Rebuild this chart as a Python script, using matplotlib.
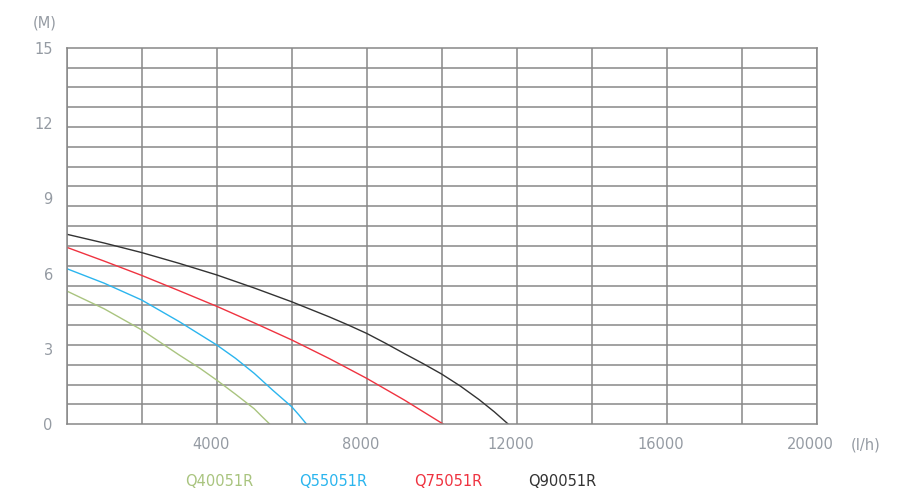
import matplotlib
matplotlib.use("Agg")
import matplotlib.pyplot as plt
from matplotlib.ticker import MultipleLocator
from matplotlib.transforms import ScaledTranslation

plt.rcParams['font.family'] = ['DejaVu Sans']

# Flow (l/h) and head (M)
q40_flow = [0, 1000, 2000, 3000, 3555, 4000, 4500, 5000, 5200, 5420]
q40_head = [5.31, 4.6, 3.76, 2.76, 2.23, 1.76, 1.2, 0.62, 0.32, 0.0]

q55_flow = [0, 1000, 2000, 3000, 4000, 4500, 5000, 5500, 6000, 6200, 6400]
q55_head = [6.2, 5.62, 4.95, 4.09, 3.16, 2.63, 2.03, 1.35, 0.70, 0.36, 0.0]

q75_flow = [0, 1000, 2000, 3000, 4000, 5000, 6000, 7000, 8000, 9000, 10050]
q75_head = [7.05, 6.5, 5.93, 5.32, 4.7, 4.04, 3.36, 2.62, 1.83, 0.97, 0.0]

q90_flow = [0, 1000, 2000, 3000, 4000, 5000, 6000, 7000, 7500, 8000, 8500, 9000, 9500, 10000, 10500, 11000, 11400, 11780]
q90_head = [7.57, 7.22, 6.84, 6.41, 5.95, 5.43, 4.88, 4.28, 3.96, 3.62, 3.23, 2.82, 2.42, 2.0, 1.52, 0.98, 0.5, 0.0]

series_names = ["Q40051R", "Q55051R", "Q75051R", "Q90051R"]
series_colors = ["#a9c47f", "#2bb5ee", "#ef3340", "#333333"]

x_ticks = [4000, 8000, 12000, 16000, 20000]
y_ticks = [0, 3, 6, 9, 12, 15]

label_color = '#959ba3'

fig = plt.figure(figsize=(9, 5), dpi=100)
ax = fig.add_axes([66.7/900, 1-424.3/500, 750/900, 376.6/500])

ax.set_xlim(0, 20000)
ax.set_ylim(0, 15)

ax.xaxis.set_minor_locator(MultipleLocator(2000))
ax.yaxis.set_minor_locator(MultipleLocator(15/19))
ax.set_xticks(x_ticks)
ax.set_yticks(y_ticks)
ax.set_xticklabels([str(v) for v in x_ticks])
ax.set_yticklabels([str(v) for v in y_ticks])
ax.tick_params(which='both', length=0)
ax.tick_params(axis='x', pad=9, labelsize=10.5, labelcolor=label_color)
ax.tick_params(axis='y', pad=10, labelsize=10.5, labelcolor=label_color)

shift = ScaledTranslation(-6/100, 0, fig.dpi_scale_trans)
for lbl in ax.get_xticklabels():
    lbl.set_transform(lbl.get_transform() + shift)

ax.grid(which='minor', color='#888888', linewidth=1.1)
ax.grid(axis='x', which='major', color='#888888', linewidth=1.1)
ax.set_axisbelow(True)
for s in ax.spines.values():
    s.set_color('#888888')
    s.set_linewidth(1.1)

flows = [q40_flow, q55_flow, q75_flow, q90_flow]
heads = [q40_head, q55_head, q75_head, q90_head]
for f, h, c in zip(flows, heads, series_colors):
    ax.plot(f, h, color=c, linewidth=1.0, solid_capstyle='butt', solid_joinstyle='round')

fig.text(45/900, 1-23/500, "(M)", ha='center', va='center', fontsize=10.5, color=label_color)
fig.text(866/900, 1-445/500, "(l/h)", ha='center', va='center', fontsize=10.5, color=label_color)

legend_x = [219, 333, 448, 562]
for name, c, lx in zip(series_names, series_colors, legend_x):
    fig.text(lx/900, 1-482/500, name, ha='center', va='center', fontsize=10.5, color=c)

fig.savefig("out.png", dpi=100)
